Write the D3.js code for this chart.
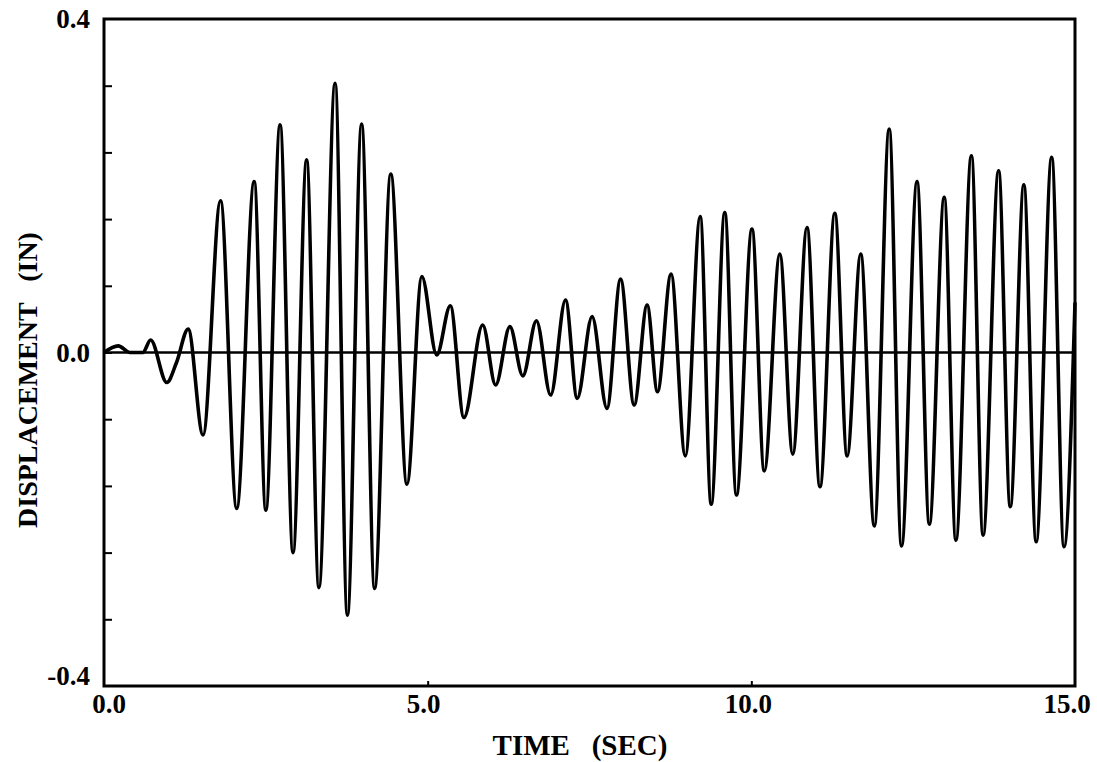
<!DOCTYPE html>
<html>
<head>
<meta charset="utf-8">
<script src="https://cdn.jsdelivr.net/npm/d3@7"></script>
<style>
  html, body { margin: 0; padding: 0; background: #ffffff; }
  svg { display: block; }
  text { font-family: "Liberation Serif", "Times New Roman", "DejaVu Serif", serif; font-weight: bold; fill: #000; }
</style>
</head>
<body>
<svg id="chart" width="1097" height="762"></svg>
<script>
// ---- data ----
const timeSec = [0, 0.22, 0.40, 0.60, 0.72, 0.97, 1.12, 1.30, 1.53, 1.80, 2.05, 2.32, 2.50, 2.72, 2.92, 3.13, 3.32, 3.57,
  3.76, 3.98, 4.18, 4.43, 4.68, 4.91, 5.14, 5.35, 5.56, 5.85, 6.05, 6.27, 6.47, 6.68, 6.90, 7.13, 7.31,
  7.54, 7.77, 7.98, 8.19, 8.39, 8.55, 8.76, 8.98, 9.21, 9.38, 9.59, 9.77, 10.01, 10.20, 10.44, 10.64, 10.86, 11.06,
  11.29, 11.48, 11.69, 11.90, 12.13, 12.32, 12.56, 12.75, 12.98, 13.16, 13.40, 13.58, 13.82, 14.00, 14.21, 14.40,
  14.64, 14.83, 15.0];
const displacementIn = [0, 0.008, 0.0, 0.0, 0.015, -0.036, -0.012, 0.028, -0.099, 0.182, -0.187, 0.205, -0.189, 0.273, -0.240, 0.231, -0.282, 0.323,
  -0.315, 0.274, -0.283, 0.214, -0.158, 0.091, -0.003, 0.056, -0.078, 0.033, -0.039, 0.031, -0.028, 0.038, -0.051, 0.063, -0.055,
  0.043, -0.067, 0.088, -0.063, 0.057, -0.047, 0.094, -0.124, 0.163, -0.182, 0.168, -0.171, 0.148, -0.142, 0.118, -0.122, 0.150, -0.161,
  0.167, -0.124, 0.118, -0.208, 0.268, -0.232, 0.205, -0.206, 0.186, -0.225, 0.236, -0.219, 0.218, -0.185, 0.201, -0.227,
  0.234, -0.233, 0.06];
const xTickValues = [0, 5, 10, 15];
const xTickLabels = ["0.0", "5.0", "10.0", "15.0"];
const yTickValues = [-0.32, -0.24, -0.16, -0.08, 0, 0.08, 0.16, 0.24, 0.32];
const yLabelValues = [0.4, 0.0, -0.4];
const yLabelTexts = ["0.4", "0.0", "-0.4"];
const xTitle = "TIME   (SEC)";
const yTitle = "DISPLACEMENT   (IN)";

// ---- layout ----
const svg = d3.select("#chart");
const plotLeft = 104, plotRight = 1075, plotTop = 19, plotBottom = 686;
const x = d3.scaleLinear().domain([0, 15]).range([plotLeft, plotRight]);
const y = d3.scaleLinear().domain([-0.4, 0.4]).range([plotBottom, plotTop]);
const xLabelShift = [5, -4, -3, -8];

const points = timeSec.map((t, i) => [t, displacementIn[i]]);

// zero line
svg.append("line")
  .attr("x1", x(0)).attr("x2", x(15))
  .attr("y1", y(0)).attr("y2", y(0))
  .attr("stroke", "#000").attr("stroke-width", 2.6);

// data curve
svg.append("path")
  .datum(points)
  .attr("fill", "none")
  .attr("stroke", "#000")
  .attr("stroke-width", 3.6)
  .attr("stroke-linejoin", "round")
  .attr("d", d3.line().x(d => x(d[0])).y(d => y(d[1])).curve(d3.curveMonotoneX));

// frame
svg.append("rect")
  .attr("x", plotLeft).attr("y", plotTop)
  .attr("width", plotRight - plotLeft).attr("height", plotBottom - plotTop)
  .attr("fill", "none").attr("stroke", "#000").attr("stroke-width", 3);

// y ticks (inward)
const yAxis = d3.axisRight(y).tickValues(yTickValues).tickSize(8).tickFormat("");
const gy = svg.append("g").attr("transform", `translate(${plotLeft},0)`).call(yAxis);
gy.select(".domain").remove();
gy.selectAll(".tick line").attr("stroke", "#000").attr("stroke-width", 2);

// x ticks (inward, short)
const xAxis = d3.axisTop(x).tickValues([5, 10]).tickSize(5).tickFormat("");
const gx = svg.append("g").attr("transform", `translate(0,${plotBottom})`).call(xAxis);
gx.select(".domain").remove();
gx.selectAll(".tick line").attr("stroke", "#000").attr("stroke-width", 2);

// x tick labels
svg.append("g").selectAll("text")
  .data(xTickValues)
  .join("text")
  .attr("x", (d, i) => x(d) + xLabelShift[i])
  .attr("y", 713)
  .attr("text-anchor", "middle")
  .attr("font-size", 27)
  .text((d, i) => xTickLabels[i]);

// y tick labels
svg.append("g").selectAll("text")
  .data(yLabelValues)
  .join("text")
  .attr("x", 90)
  .attr("y", d => d === -0.4 ? y(d) - 1 : y(d) + 9)
  .attr("text-anchor", "end")
  .attr("font-size", 27)
  .text((d, i) => yLabelTexts[i]);

// axis titles
svg.append("text")
  .attr("x", 580).attr("y", 755)
  .attr("text-anchor", "middle")
  .attr("font-size", 29)
  .style("white-space", "pre")
  .text(xTitle);

svg.append("text")
  .attr("transform", "translate(37,380) rotate(-90)")
  .attr("text-anchor", "middle")
  .attr("font-size", 28)
  .style("white-space", "pre")
  .text(yTitle);
</script>
</body>
</html>
